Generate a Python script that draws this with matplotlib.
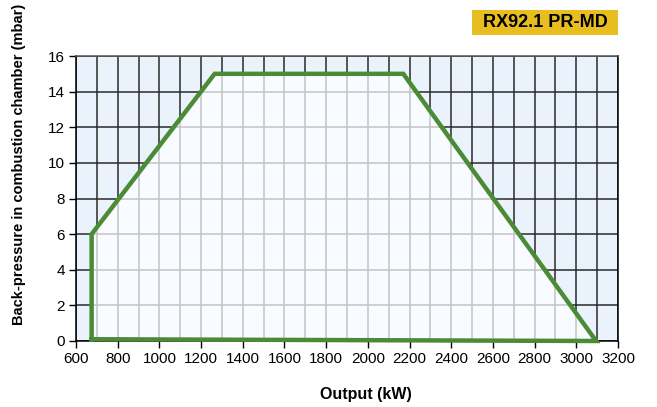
import numpy as np
import matplotlib.pyplot as plt
from matplotlib.patches import Polygon, Rectangle

plt.rcParams['font.family'] = ['Liberation Sans', 'DejaVu Sans']

# working field of the burner
output_kw = [675, 675, 1265, 2170, 3095, 675]
pressure_mbar = [0.1, 6, 15, 15, 0, 0.1]

xticks = np.arange(600, 3201, 200)
yticks = np.arange(0, 17, 2)
xgrid = np.arange(600, 3201, 100)

W, H = 657, 407
fig = plt.figure(figsize=(6.57, 4.07), dpi=100)
ax = fig.add_axes([76 / W, 1 - 341 / H, 542 / W, 285 / H])
ax.set_xlim(600, 3200)
ax.set_ylim(0, 16)
ax.set_facecolor('#eaf3fb')

# dark grid outside the field
ax.vlines(xgrid, 0, 16, color='#2a2a2a', lw=1.1, zorder=1)
ax.hlines(yticks, 600, 3200, color='#2a2a2a', lw=1.1, zorder=1)

poly = Polygon(list(zip(output_kw, pressure_mbar)), closed=True,
               facecolor='#f8fbff', edgecolor='none', zorder=2)
ax.add_patch(poly)

# light grid inside the field
lv = ax.vlines(xgrid, 0, 16, color='#c4c4c4', lw=1.1, zorder=3)
lh = ax.hlines(yticks, 600, 3200, color='#c4c4c4', lw=1.1, zorder=3)
lv.set_clip_path(poly)
lh.set_clip_path(poly)

ax.plot(output_kw, pressure_mbar, color='#4b8b36', lw=3.2,
        solid_joinstyle='miter', zorder=4, clip_on=False)

ax.set_xticks(xticks)
ax.set_yticks(yticks)
ax.tick_params(direction='out', length=5, width=1, labelsize=11, colors='black', pad=3)
for s in ['left', 'bottom', 'right']:
    ax.spines[s].set_color('black')
    ax.spines[s].set_linewidth(1.1)
ax.spines['top'].set_color('#555555')
ax.spines['top'].set_linewidth(1.1)

fig.text(366 / W, 1 - 394 / H, 'Output (kW)', ha='center', va='center',
         fontsize=11.5, fontweight='bold')
fig.text(19 / W, 1 - 325 / H, 'Back-pressure in combustion chamber (mbar)',
         rotation=90, ha='center', va='bottom', fontsize=10.5, fontweight='bold')

fig.patches.append(Rectangle((472 / W, 1 - 35 / H), 146 / W, 25 / H,
                             transform=fig.transFigure, facecolor='#e8bd1f',
                             edgecolor='none'))
fig.text(545 / W, 1 - 22.5 / H, 'RX92.1 PR-MD', ha='center', va='center',
         fontsize=13, fontweight='bold', color='black')

fig.savefig('out.png', dpi=100)
